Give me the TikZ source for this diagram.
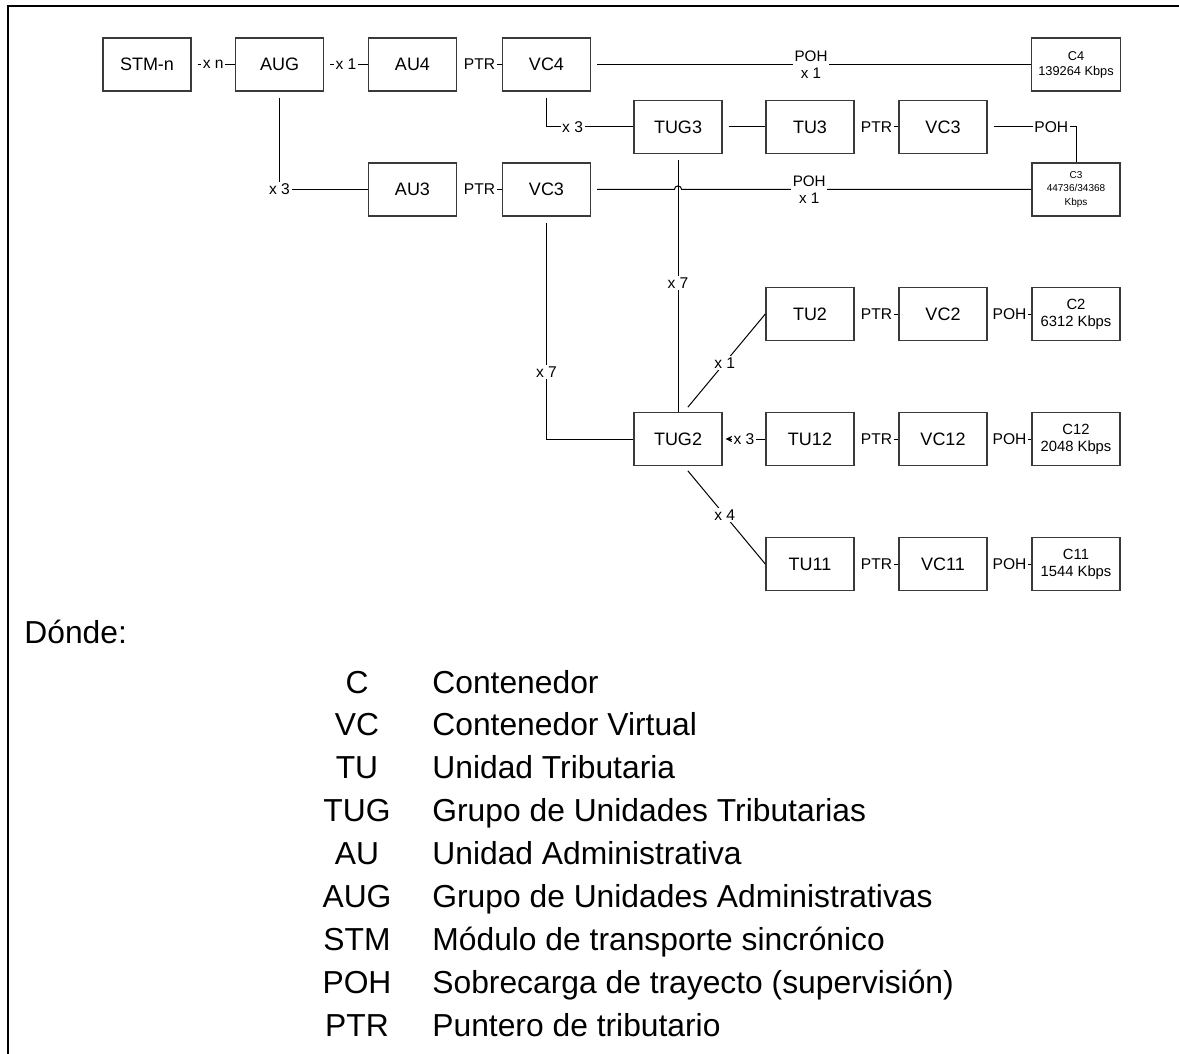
\documentclass[tikz,border=0pt]{standalone}
\usepackage{fontspec}
\setmainfont{Liberation Sans}
\usepackage{tikz}
\definecolor{boxline}{HTML}{3A3A3A}

\begin{document}
\begin{tikzpicture}[
  x=0.5pt, y=-0.5pt,
  blk/.style={rectangle, draw=boxline, line width=0.7pt, minimum width=44pt, minimum height=26.5pt, font=\fontsize{9}{10.8}\selectfont},
  cbox/.style={blk, align=center, font=\fontsize{7.4}{8.6}\selectfont},
  lbl/.style={fill=white, inner sep=0.8pt, font=\fontsize{7.8}{8}\selectfont},
  lbltwo/.style={lbl, align=center, font=\fontsize{7.6}{8.4}\selectfont},
  conn/.style={draw, line width=0.5pt, shorten <=3pt},
  legab/.style={anchor=base, inner sep=0pt, font=\fontsize{15.9}{18}\selectfont},
  legtx/.style={anchor=base west, inner sep=0pt, font=\fontsize{15.9}{18}\selectfont}
]
  \useasboundingbox (0,0) rectangle (1179,1054);
  \draw[line width=1pt] (8,1054) -- (8,6) -- (1179,6);

  % upper rows
  \node[blk] (stm) at (147,64.5) {STM-n};
  \node[blk] (aug) at (279.5,64.5) {AUG};
  \node[blk] (au4) at (412.5,64.5) {AU4};
  \node[blk] (vc4) at (546.5,64.5) {VC4};
  \node[cbox, font=\fontsize{6.4}{7.6}\selectfont] (c4) at (1076,64.5) {C4\\139264 Kbps};
  \node[blk] (tug3) at (678,127) {TUG3};
  \node[blk] (tu3) at (810,127) {TU3};
  \node[blk] (vc3a) at (943,127) {VC3};
  \node[blk] (au3) at (412.5,189.5) {AU3};
  \node[blk] (vc3b) at (546.5,189.5) {VC3};
  \node[cbox, font=\fontsize{5}{6.6}\selectfont] (c3) at (1076,189.5) {C3\\44736/34368\\Kbps};

  % lower rows
  \node[blk] (tu2) at (810,314) {TU2};
  \node[blk] (vc2) at (943,314) {VC2};
  \node[cbox] (c2) at (1076,314) {C2\\6312 Kbps};
  \node[blk] (tug2) at (678,439) {TUG2};
  \node[blk] (tu12) at (810,439) {TU12};
  \node[blk] (vc12) at (943,439) {VC12};
  \node[cbox] (c12) at (1076,439) {C12\\2048 Kbps};
  \node[blk] (tu11) at (810,564) {TU11};
  \node[blk] (vc11) at (943,564) {VC11};
  \node[cbox] (c11) at (1076,564) {C11\\1544 Kbps};

  \coordinate (jmp) at (vc3b.east -| tug3.south);

  \draw[conn] (stm) -- node[lbl]{x n} (aug);
  \draw[conn] (aug) -- node[lbl]{x 1} (au4);
  \draw[conn] (au4) -- node[lbl]{PTR} (vc4);
  \draw[conn] (vc4) -- node[lbltwo]{POH\\x 1} (c4);
  \draw[conn] (vc4) |- node[lbl, pos=0.65]{x 3} (tug3);
  \draw[conn] (tug3) -- (tu3);
  \draw[conn] (tu3) -- node[lbl]{PTR} (vc3a);
  \draw[conn] (vc3a) -| node[lbl, pos=0.36]{POH} (c3);
  \draw[conn] (aug) |- node[lbl]{x 3} (au3);
  \draw[conn] (au3) -- node[lbl]{PTR} (vc3b);
  \draw[conn] (vc3b) -- ([xshift=-1.8pt]jmp) arc[start angle=180, end angle=0, radius=1.8pt]
    -- node[lbltwo, pos=0.365]{POH\\x 1} (c3);
  \draw[conn] (tug3) -- node[lbl]{x 7} (tug2);
  \draw[conn] (vc3b) |- node[lbl, pos=0.35]{x 7} (tug2);
  \draw[conn] ([xshift=3pt]tug2.north) -- node[lbl]{x 1} (tu2.west);
  \draw[conn] ([xshift=3pt]tug2.south) -- node[lbl]{x 4} (tu11.west);
  \draw[conn, <-, >=stealth, shorten <=1.5pt] (tug2) -- node[lbl]{x 3} (tu12);
  \draw[conn] (tu2) -- node[lbl]{PTR} (vc2);
  \draw[conn] (vc2) -- node[lbl]{POH} (c2);
  \draw[conn] (tu12) -- node[lbl]{PTR} (vc12);
  \draw[conn] (vc12) -- node[lbl]{POH} (c12);
  \draw[conn] (tu11) -- node[lbl]{PTR} (vc11);
  \draw[conn] (vc11) -- node[lbl]{POH} (c11);

  % legend
  \node[legtx] (donde) at (24,643) {Dónde:};
  \node[legab] (abc) at (357,693) {C};
  \node[legtx] (txc) at (432,693) {Contenedor};
  \node[legab] (abvc) at (357,735.9) {VC};
  \node[legtx] (txvc) at (432,735.9) {Contenedor Virtual};
  \node[legab] (abtu) at (357,778.8) {TU};
  \node[legtx] (txtu) at (432,778.8) {Unidad Tributaria};
  \node[legab] (abtug) at (357,821.7) {TUG};
  \node[legtx] (txtug) at (432,821.7) {Grupo de Unidades Tributarias};
  \node[legab] (abau) at (357,864.6) {AU};
  \node[legtx] (txau) at (432,864.6) {Unidad Administrativa};
  \node[legab] (abaug) at (357,907.5) {AUG};
  \node[legtx] (txaug) at (432,907.5) {Grupo de Unidades Administrativas};
  \node[legab] (abstm) at (357,950.4) {STM};
  \node[legtx] (txstm) at (432,950.4) {Módulo de transporte sincrónico};
  \node[legab] (abpoh) at (357,993.3) {POH};
  \node[legtx] (txpoh) at (432,993.3) {Sobrecarga de trayecto (supervisión)};
  \node[legab] (abptr) at (357,1036.2) {PTR};
  \node[legtx] (txptr) at (432,1036.2) {Puntero de tributario};
\end{tikzpicture}
\end{document}
